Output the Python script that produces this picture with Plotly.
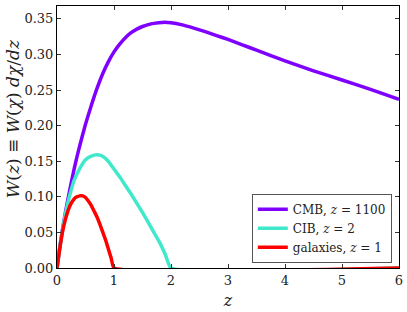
import plotly.graph_objects as go

# CMB lensing kernel, z = 1100
z_cmb = [0, 0.05, 0.1, 0.15, 0.2, 0.25, 0.3, 0.35, 0.4, 0.5, 0.6, 0.7, 0.8, 0.9, 1.0,
         1.1, 1.2, 1.3, 1.4, 1.5, 1.6, 1.7, 1.85, 2.0, 2.2, 2.4, 2.6, 2.8, 3.0,
         3.25, 3.5, 4.0, 4.5, 5.0, 5.5, 6.0]
w_cmb = [0, 0.030, 0.056, 0.079, 0.100, 0.120, 0.139, 0.156, 0.172, 0.202, 0.228,
         0.252, 0.2725, 0.2895, 0.3035, 0.3145, 0.3235, 0.3305, 0.3355, 0.3392,
         0.3418, 0.3436, 0.345, 0.3445, 0.3415, 0.337, 0.332, 0.3265, 0.321,
         0.3135, 0.306, 0.291, 0.277, 0.264, 0.251, 0.237]

# CIB, z = 2
z_cib = [0, 0.05, 0.1, 0.15, 0.2, 0.25, 0.3, 0.35, 0.4, 0.5, 0.6, 0.7, 0.8, 0.9,
         1.0, 1.1, 1.2, 1.3, 1.4, 1.5, 1.6, 1.7, 1.8, 1.9, 2.0, 6.0]
w_cib = [0, 0.029, 0.055, 0.077, 0.095, 0.110, 0.123, 0.132, 0.140, 0.152, 0.157,
         0.159, 0.157, 0.150, 0.139, 0.128, 0.116, 0.104, 0.091, 0.078, 0.064,
         0.050, 0.036, 0.019, 0.0, 0.0]

# galaxies, z = 1
z_gal = [0, 0.05, 0.1, 0.15, 0.2, 0.25, 0.3, 0.35, 0.4, 0.45, 0.5, 0.55, 0.6,
         0.65, 0.7, 0.75, 0.8, 0.85, 0.9, 0.95, 1.0, 6.0]
w_gal = [0, 0.028, 0.052, 0.069, 0.082, 0.091, 0.097, 0.100, 0.1013, 0.1013,
         0.099, 0.094, 0.088, 0.080, 0.072, 0.062, 0.051, 0.040, 0.027, 0.014,
         0.0, 0.0]

x_ticks = [0, 1, 2, 3, 4, 5, 6]
y_ticks = [0.00, 0.05, 0.10, 0.15, 0.20, 0.25, 0.30, 0.35]

FONT = "DejaVu Serif, Liberation Serif, Times New Roman, serif"

fig = go.Figure()
series = [
    (z_cmb, w_cmb, "#7f00ff", "CMB, <i>z</i> = 1100"),
    (z_cib, w_cib, "#40e8cc", "CIB, <i>z</i> = 2"),
    (z_gal, w_gal, "#ff0000", "galaxies, <i>z</i> = 1"),
]
for zs, ws, col, name in series:
    fig.add_trace(go.Scatter(x=zs, y=ws, mode="lines", name=name,
                             line=dict(color=col, width=3.5, shape="spline",
                                       smoothing=0.4)))

axis_common = dict(showline=True, linecolor="black", linewidth=1, mirror="ticks",
                   ticks="inside", ticklen=4, tickcolor="#333", showgrid=False,
                   zeroline=False, automargin=False,
                   tickfont=dict(family=FONT, size=13, color="#222"))

fig.update_xaxes(range=[0, 6], tickvals=x_ticks, ticktext=[str(v) for v in x_ticks],
                 title=dict(text="<i>z</i>", font=dict(family=FONT, size=16, color="#222"),
                            standoff=8),
                 **axis_common)
fig.update_yaxes(range=[0, 0.368], tickvals=y_ticks,
                 ticktext=[f"{v:.2f}" for v in y_ticks], **axis_common)

fig.add_annotation(text="<i>W</i>(<i>z</i>) ≡ <i>W</i>(<i>χ</i>) <i>dχ</i>/<i>dz</i>",
                   xref="paper", yref="paper", x=-0.128, y=0.569, textangle=-90,
                   showarrow=False, xanchor="center", yanchor="middle",
                   font=dict(family=FONT, size=17, color="#222"))

fig.update_layout(
    width=407, height=312,
    margin=dict(l=57, r=8, t=6, b=44),
    paper_bgcolor="white", plot_bgcolor="white",
    showlegend=True,
    legend=dict(x=0.979, y=0.02, xanchor="right", yanchor="bottom",
                bgcolor="white", bordercolor="#555", borderwidth=1,
                font=dict(family=FONT, size=12, color="#222"),
                itemwidth=30, tracegroupgap=0),
)

fig.write_html("out.html", config={"displayModeBar": False},
               post_script="document.body.style.margin='0';")
